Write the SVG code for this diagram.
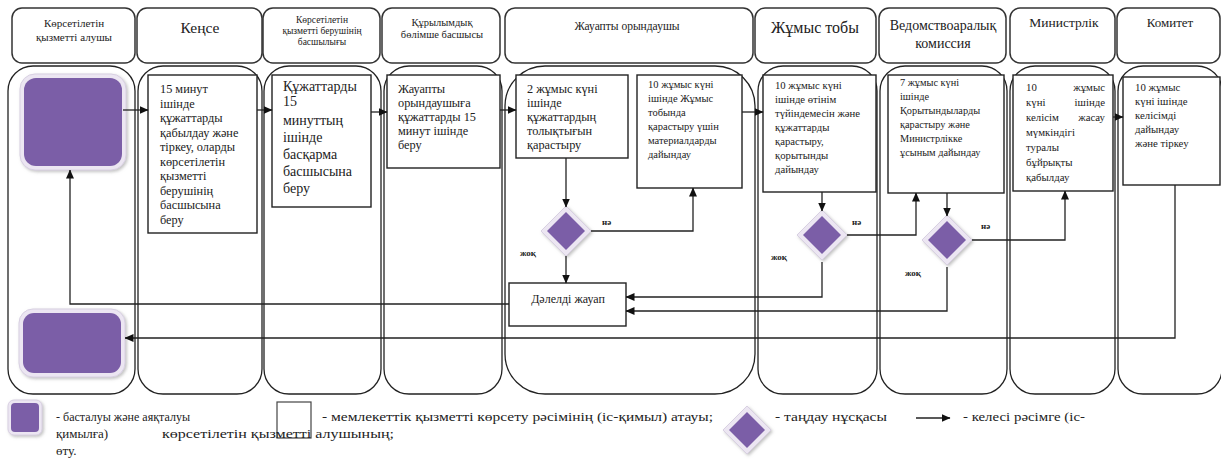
<svg xmlns="http://www.w3.org/2000/svg" width="1221" height="464" viewBox="0 0 1221 464">
<style>
text{font-family:"Liberation Serif","Times New Roman",serif;fill:#222}
.hd{fill:#fff;stroke:#333;stroke-width:1.5}
.ln{fill:none;stroke:#222;stroke-width:1.3}
.bx{fill:#fff;stroke:#222;stroke-width:1.4}
.t{font-size:12.3px}
.c{stroke:#222;stroke-width:1.3;fill:none}
.lbl{font-size:9px;font-weight:bold}
.lg{font-size:13px}
.pg{fill:#ece6f2;stroke:#d8d0e2;stroke-width:1}
.pu{fill:#7b5ea7}
</style>
<defs>
<marker id="ah" markerWidth="9" markerHeight="8" refX="8.5" refY="4" orient="auto" markerUnits="userSpaceOnUse">
<path d="M0,0 L9,4 L0,8 Z" fill="#111"/>
</marker>
<filter id="sh" x="-20%" y="-20%" width="140%" height="140%">
<feDropShadow dx="1.5" dy="1.5" stdDeviation="1.5" flood-color="#999" flood-opacity="0.6"/>
</filter>
</defs>
<rect width="1221" height="464" fill="#fff"/>

<g id="lanes">
<rect class="ln" x="8" y="66" width="127" height="328" rx="25"/>
<rect class="ln" x="138" y="66" width="124" height="328" rx="25"/>
<rect class="ln" x="264" y="66" width="117" height="328" rx="25"/>
<rect class="ln" x="384" y="66" width="118" height="328" rx="25"/>
<rect class="ln" x="505" y="66" width="250" height="328" rx="40"/>
<rect class="ln" x="758" y="66" width="119" height="328" rx="25"/>
<rect class="ln" x="880" y="66" width="127" height="328" rx="25"/>
<rect class="ln" x="1010" y="66" width="105" height="328" rx="25"/>
<rect class="ln" x="1118" y="66" width="104" height="328" rx="25"/>
</g>

<g id="headers">
<g id="h1"><rect class="hd" x="12" y="8" width="123" height="55" rx="10"/>
<text x="74" y="27" font-size="11" text-anchor="middle">Көрсетілетін</text>
<text x="74" y="41" font-size="11" text-anchor="middle">қызметті алушы</text></g>
<g id="h2"><rect class="hd" x="137" y="8" width="125" height="55" rx="10"/>
<text x="200" y="33" font-size="15.5" text-anchor="middle">Кеңсе</text></g>
<g id="h3"><rect class="hd" x="263" y="8" width="117" height="55" rx="10"/>
<text x="322" y="23" font-size="9.5" text-anchor="middle">Көрсетілетін</text>
<text x="322" y="34" font-size="9.5" text-anchor="middle">қызметті берушінің</text>
<text x="322" y="45" font-size="9.5" text-anchor="middle">басшылығы</text></g>
<g id="h4"><rect class="hd" x="382" y="8" width="118" height="55" rx="10"/>
<text x="442" y="26" font-size="10.5" text-anchor="middle">Құрылымдық</text>
<text x="442" y="38" font-size="10.5" text-anchor="middle">бөлімше басшысы</text></g>
<g id="h5"><rect class="hd" x="505" y="8" width="248" height="55" rx="10"/>
<text x="627" y="30" font-size="11.5" text-anchor="middle">Жауапты орындаушы</text></g>
<g id="h6"><rect class="hd" x="755" y="8" width="121" height="55" rx="10"/>
<text x="815" y="33" font-size="16" text-anchor="middle">Жұмыс тобы</text></g>
<g id="h7"><rect class="hd" x="879" y="8" width="127" height="55" rx="10"/>
<text x="943" y="30" font-size="14" text-anchor="middle">Ведомствоаралық</text>
<text x="943" y="48" font-size="14" text-anchor="middle">комиссия</text></g>
<g id="h8"><rect class="hd" x="1010" y="8" width="105" height="55" rx="10"/>
<text x="1064" y="27" font-size="13.5" text-anchor="middle">Министрлік</text></g>
<g id="h9"><rect class="hd" x="1117" y="8" width="103" height="55" rx="10"/>
<text x="1170" y="27" font-size="13" text-anchor="middle">Комитет</text></g>
</g>

<g id="start">
<rect class="pg" x="20" y="74" width="106" height="96" rx="15" filter="url(#sh)"/>
<rect class="pu" x="24" y="78" width="98" height="88" rx="12"/>
</g>
<g id="end">
<rect class="pg" x="19" y="309" width="106" height="68" rx="14" filter="url(#sh)"/>
<rect class="pu" x="23" y="313" width="98" height="60" rx="11"/>
</g>

<g id="box1"><rect class="bx" x="148" y="75" width="109" height="158"/>
<text class="t" x="160"><tspan x="160" y="93">15 минут</tspan><tspan x="160" y="107.5">ішінде</tspan><tspan x="160" y="122">құжаттарды</tspan><tspan x="160" y="136.5">қабылдау және</tspan><tspan x="160" y="151">тіркеу, оларды</tspan><tspan x="160" y="165.5">көрсетілетін</tspan><tspan x="160" y="180">қызметті</tspan><tspan x="160" y="194.5">берушінің</tspan><tspan x="160" y="209">басшысына</tspan><tspan x="160" y="223.5">беру</tspan></text></g>

<g id="box2"><rect class="bx" x="272" y="75" width="99" height="132"/>
<text font-size="14" x="283"><tspan x="283" y="91">Құжаттарды</tspan><tspan x="283" y="106">15</tspan><tspan x="283" y="125">минуттың</tspan><tspan x="283" y="142">ішінде</tspan><tspan x="283" y="159">басқарма</tspan><tspan x="283" y="176">басшысына</tspan><tspan x="283" y="193">беру</tspan></text></g>

<g id="box3"><rect class="bx" x="387" y="75" width="113" height="93"/>
<text class="t" x="398"><tspan x="398" y="93">Жауапты</tspan><tspan x="398" y="107">орындаушыға</tspan><tspan x="398" y="121">құжаттарды 15</tspan><tspan x="398" y="135">минут ішінде</tspan><tspan x="398" y="149">беру</tspan></text></g>

<g id="box4"><rect class="bx" x="516" y="75" width="112" height="83"/>
<text class="t" x="527"><tspan x="527" y="93">2  жұмыс күні</tspan><tspan x="527" y="107">ішінде</tspan><tspan x="527" y="121">құжаттардың</tspan><tspan x="527" y="135">толықтығын</tspan><tspan x="527" y="149">қарастыру</tspan></text></g>

<g id="box5"><rect class="bx" x="637" y="75" width="105" height="113"/>
<text font-size="10.5" x="648"><tspan x="648" y="88">10 жұмыс күні</tspan><tspan x="648" y="102">ішінде Жұмыс</tspan><tspan x="648" y="116">тобында</tspan><tspan x="648" y="130">қарастыру үшін</tspan><tspan x="648" y="144">материалдарды</tspan><tspan x="648" y="158">дайындау</tspan></text></g>

<g id="dec1">
<polygon class="pg" points="566,206 591,231 566,256 541,231" filter="url(#sh)"/>
<polygon class="pu" points="566,212 585,231 566,250 547,231"/>
</g>

<g id="box10"><rect class="bx" x="509" y="283" width="117" height="43"/>
<text font-size="12" x="568" y="303" text-anchor="middle">Дәлелді жауап</text></g>

<g id="box6"><rect class="bx" x="763" y="75" width="113" height="117"/>
<text font-size="10.7" x="775"><tspan x="775" y="89">10 жұмыс күні</tspan><tspan x="775" y="103">ішінде өтінім</tspan><tspan x="775" y="117">түйіндемесін және</tspan><tspan x="775" y="131">құжаттарды</tspan><tspan x="775" y="145">қарастыру,</tspan><tspan x="775" y="159">қорытынды</tspan><tspan x="775" y="173">дайындау</tspan></text></g>

<g id="dec2">
<polygon class="pg" points="822,210 847,235 822,260 797,235" filter="url(#sh)"/>
<polygon class="pu" points="822,216 841,235 822,254 803,235"/>
</g>

<g id="box7"><rect class="bx" x="888" y="75" width="116" height="118"/>
<text font-size="10.3" x="900"><tspan x="900" y="86">7 жұмыс күні</tspan><tspan x="900" y="100">ішінде</tspan><tspan x="900" y="114">Қорытындыларды</tspan><tspan x="900" y="128">қарастыру және</tspan><tspan x="900" y="142">Министрлікке</tspan><tspan x="900" y="156">ұсыным дайындау</tspan></text></g>

<g id="dec3">
<polygon class="pg" points="947,215 972,240 947,265 922,240" filter="url(#sh)"/>
<polygon class="pu" points="947,221 966,240 947,259 928,240"/>
</g>

<g id="box8"><rect class="bx" x="1013" y="75" width="100" height="116"/>
<text font-size="10.8"><tspan x="1026" y="91">10</tspan><tspan x="1105" y="91" text-anchor="end">жұмыс</tspan><tspan x="1026" y="106">күні</tspan><tspan x="1105" y="106" text-anchor="end">ішінде</tspan><tspan x="1026" y="121">келісім</tspan><tspan x="1105" y="121" text-anchor="end">жасау</tspan><tspan x="1026" y="136">мүмкіндігі</tspan><tspan x="1026" y="151">туралы</tspan><tspan x="1026" y="166">бұйрықты</tspan><tspan x="1026" y="181">қабылдау</tspan></text></g>

<g id="box9"><rect class="bx" x="1123" y="77" width="97" height="108"/>
<text font-size="10.8" x="1135"><tspan x="1135" y="91">10 жұмыс</tspan><tspan x="1135" y="105">күні ішінде</tspan><tspan x="1135" y="119">келісімді</tspan><tspan x="1135" y="133">дайындау</tspan><tspan x="1135" y="147">және тіркеу</tspan></text></g>

<g id="connectors">
<path class="c" d="M123,110 H148" marker-end="url(#ah)"/>
<path class="c" d="M257,110 H272" marker-end="url(#ah)"/>
<path class="c" d="M371,112 H387" marker-end="url(#ah)"/>
<path class="c" d="M500,110 H516" marker-end="url(#ah)"/>
<path class="c" d="M566,158 V207" marker-end="url(#ah)"/>
<path class="c" d="M591,231 H693 V188" marker-end="url(#ah)"/>
<path class="c" d="M566,256 V283" marker-end="url(#ah)"/>
<path class="c" d="M742,112 H763" marker-end="url(#ah)"/>
<path class="c" d="M822,192 V211" marker-end="url(#ah)"/>
<path class="c" d="M847,235 H916 V193" marker-end="url(#ah)"/>
<path class="c" d="M947,193 V216" marker-end="url(#ah)"/>
<path class="c" d="M972,240 H1065 V191" marker-end="url(#ah)"/>
<path class="c" d="M1113,117 H1123" marker-end="url(#ah)"/>
<path class="c" d="M822,262 V297 H626" marker-end="url(#ah)"/>
<path class="c" d="M947,267 V311 H626" marker-end="url(#ah)"/>
<path class="c" d="M509,304 H70 V170" marker-end="url(#ah)"/>
<path class="c" d="M1175,185 V338 H125" marker-end="url(#ah)"/>
<text class="lbl" x="602" y="225">нә</text>
<text class="lbl" x="520" y="256">жоқ</text>
<text class="lbl" x="852" y="225">нә</text>
<text class="lbl" x="771" y="260">жоқ</text>
<text class="lbl" x="981" y="229">нә</text>
<text class="lbl" x="905" y="276">жоқ</text>
</g>

<g id="legend">
<rect class="pg" x="8" y="400" width="34" height="35" rx="6" filter="url(#sh)"/>
<rect class="pu" x="11" y="403" width="28" height="29" rx="4"/>
<text class="lg" x="56" y="421" textLength="134" lengthAdjust="spacingAndGlyphs">- басталуы және аяқталуы</text>
<text class="lg" x="56" y="438">қимылға)</text>
<text class="lg" x="56" y="455">өту.</text>
<rect x="277" y="402" width="34" height="36" fill="#fff" stroke="#444" stroke-width="1.2"/>
<text class="lg" x="322" y="421" textLength="391" lengthAdjust="spacingAndGlyphs">- мемлекеттік қызметті көрсету рәсімінің (іс-қимыл) атауы;</text>
<text class="lg" x="162" y="438" textLength="232" lengthAdjust="spacingAndGlyphs">көрсетілетін қызметті алушының;</text>
<polygon class="pg" points="747,406 771,430 747,454 723,430" filter="url(#sh)"/>
<polygon class="pu" points="747,412 765,430 747,448 729,430"/>
<text class="lg" x="775" y="421" textLength="112" lengthAdjust="spacingAndGlyphs">- таңдау нұсқасы</text>
<path class="c" d="M916,418 H950" marker-end="url(#ah)"/>
<text class="lg" x="963" y="421" textLength="122" lengthAdjust="spacingAndGlyphs">- келесі рәсімге (іс-</text>
</g>
</svg>
